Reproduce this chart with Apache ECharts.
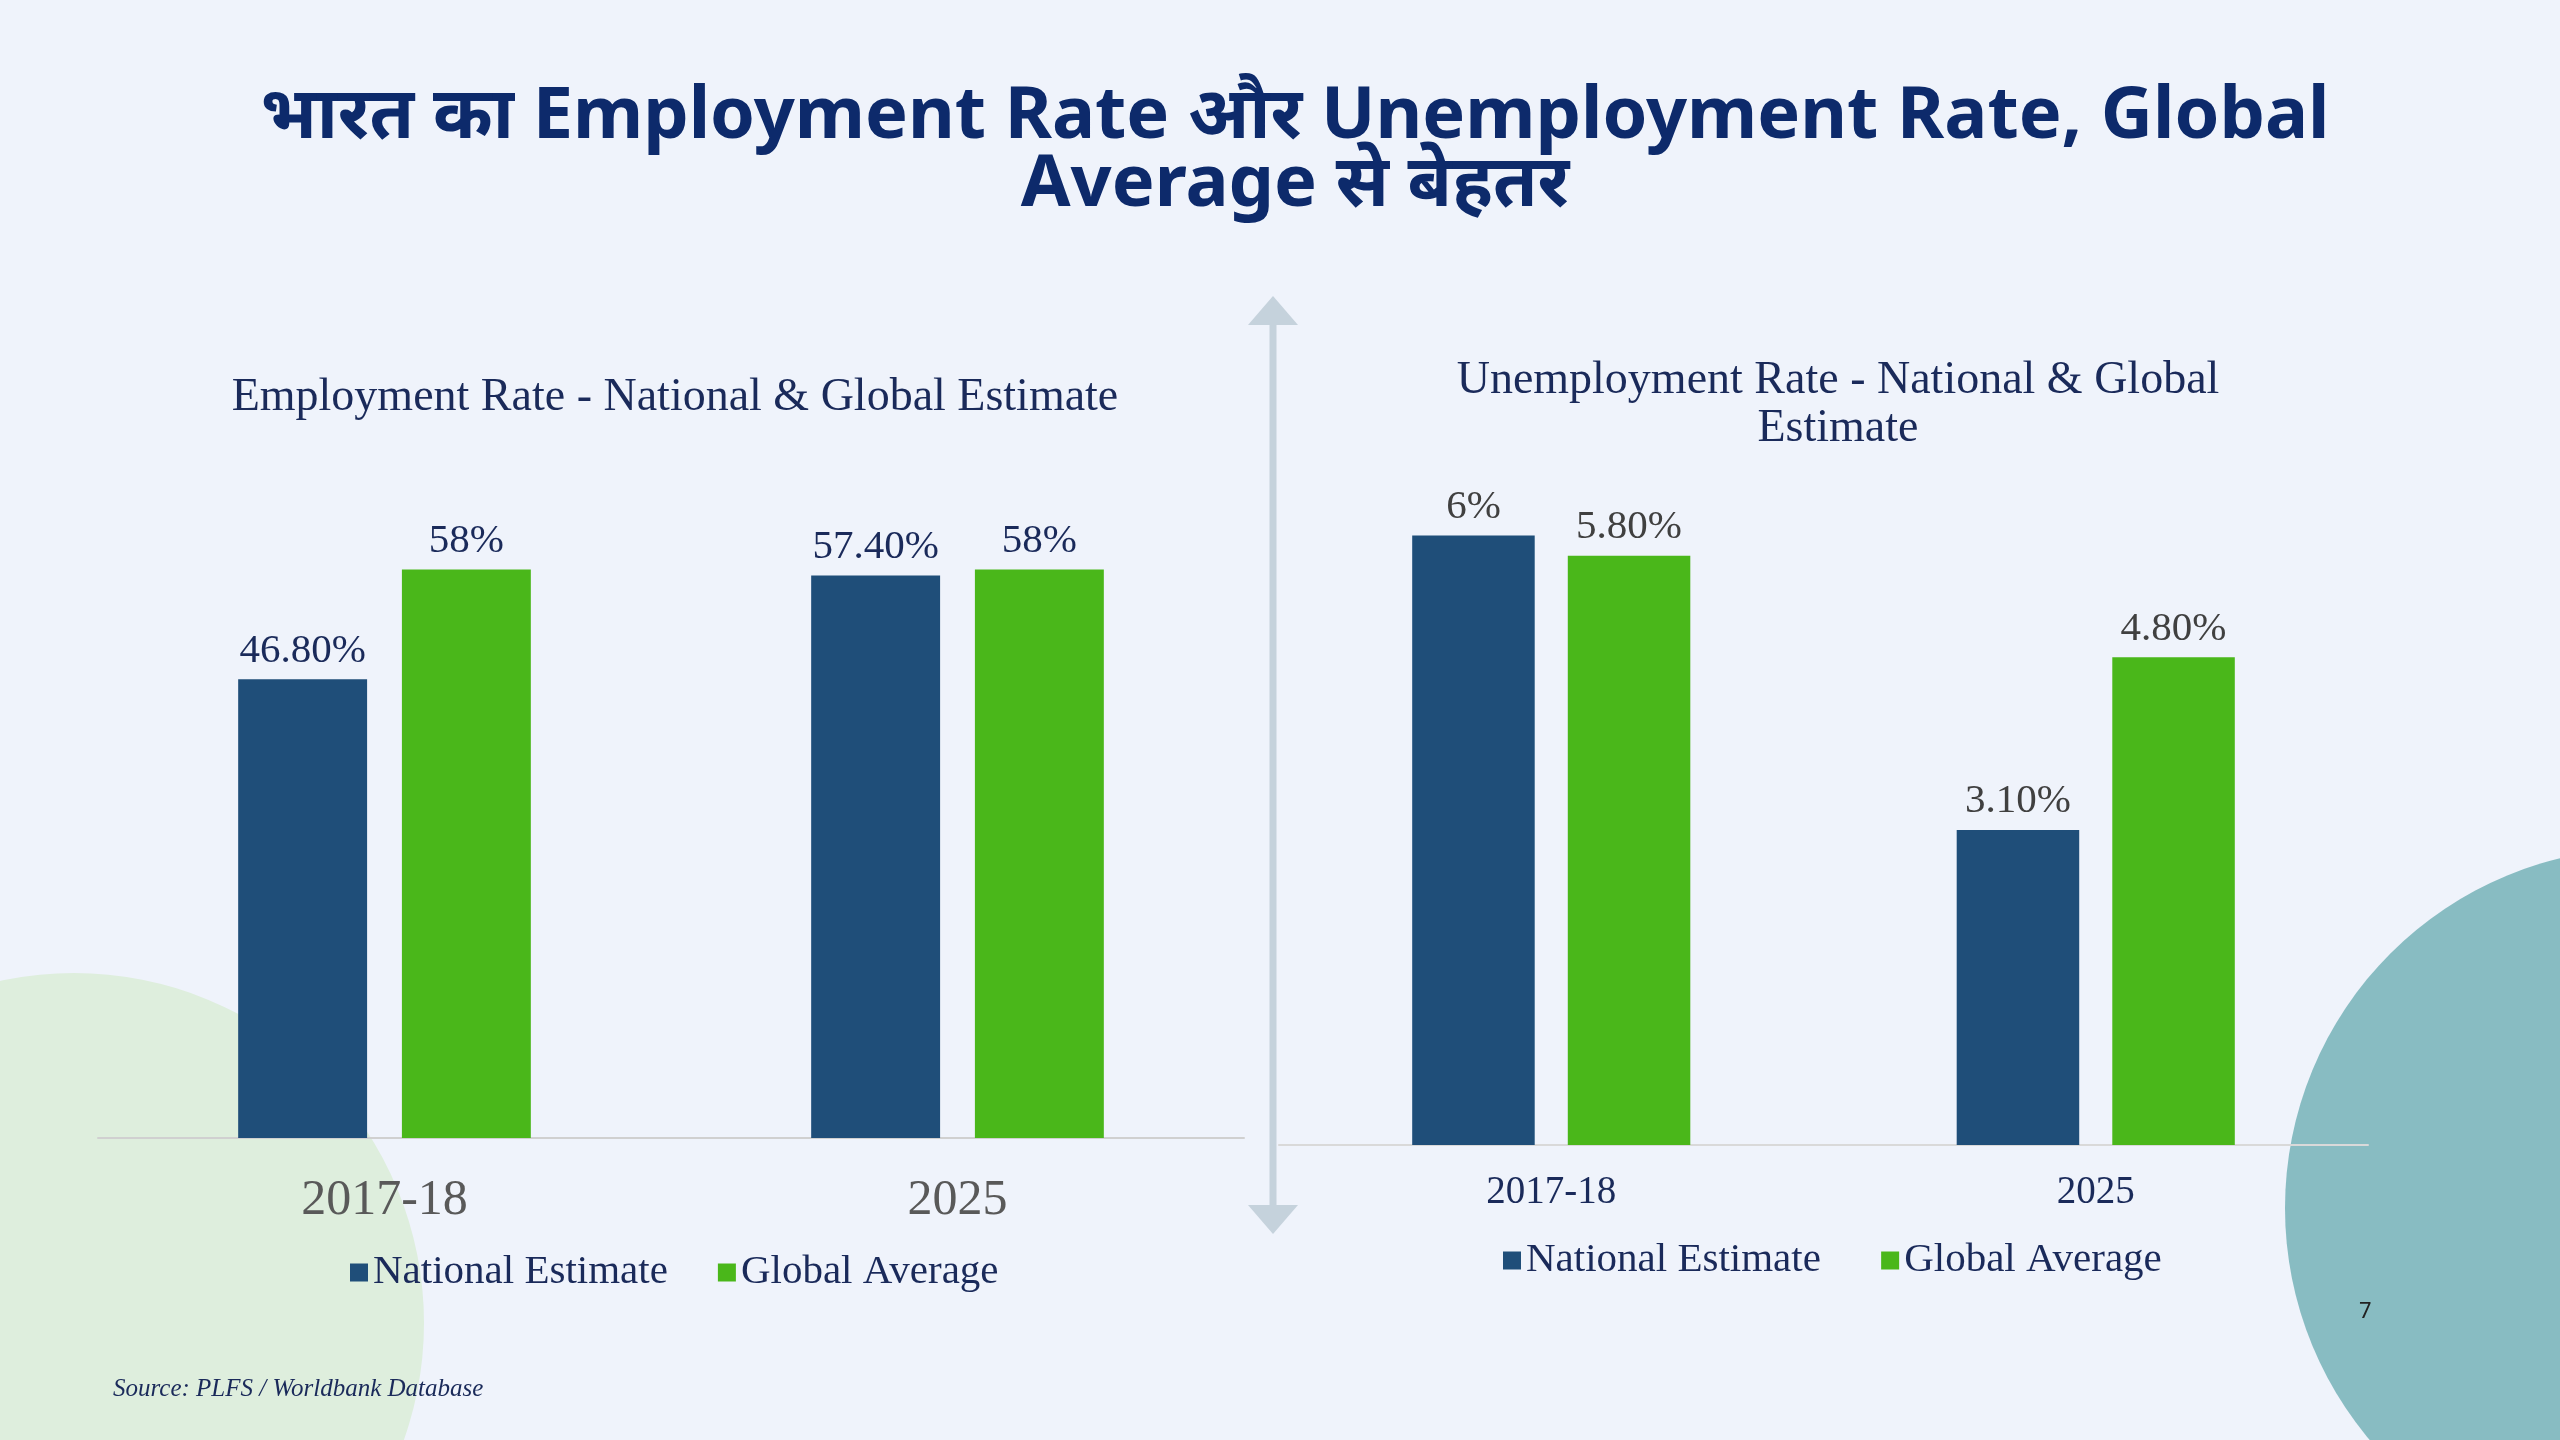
<!DOCTYPE html>
<html style="height: 100%">
<head>
<meta charset="utf-8">
<script src="https://cdn.jsdelivr.net/npm/echarts@6/dist/echarts.min.js"></script>
</head>
<body style="height: 100%; margin: 0; background: #eff3fb">
<div id="main" style="width: 2560px; height: 1440px"></div>
<script type="text/javascript">
    var years = ['2017-18', '2025'];
    var empNational = [46.8, 57.4];
    var empGlobal = [58, 58];
    var empLabels = [['46.80%', '57.40%'], ['58%', '58%']];
    var unempNational = [6, 3.1];
    var unempGlobal = [5.8, 4.8];
    var unempLabels = [['6%', '3.10%'], ['5.80%', '4.80%']];

    var serif = '"Liberation Serif", "DejaVu Serif", serif';
    var navy = '#1f4e79';
    var green = '#4ab71a';

    function bars(name, values, labels, idx, color, labelColor) {
        return {
            name: name, type: 'bar', xAxisIndex: idx, yAxisIndex: idx,
            barWidth: '22.5%', barGap: '27%',
            itemStyle: {color: color},
            label: {
                show: true, position: 'top', distance: 8,
                fontFamily: serif, fontSize: 41, color: labelColor,
                formatter: function (p) { return labels[p.dataIndex]; }
            },
            data: values
        };
    }

    var chart = echarts.init(document.getElementById('main'));
    var option = {
        backgroundColor: '#eff3fb',
        title: [
            {text: 'भारत का Employment Rate और Unemployment Rate, Global\nAverage से बेहतर',
             left: 1290, top: 78, textAlign: 'center',
             textStyle: {fontFamily: '"Noto Sans", sans-serif', fontWeight: 'bold', fontSize: 72,
                         color: '#0d2a6b', lineHeight: 68}},
            {text: 'Employment Rate - National & Global Estimate', left: 670, top: 370, textAlign: 'center',
             textStyle: {fontFamily: serif, fontWeight: 'normal', fontSize: 46, color: '#1a2a5a'}},
            {text: 'Unemployment Rate - National & Global\nEstimate', left: 1833, top: 352, textAlign: 'center',
             textStyle: {fontFamily: serif, fontWeight: 'normal', fontSize: 46, color: '#1a2a5a', lineHeight: 48}},
            {text: 'Source: PLFS / Worldbank Database', left: 108, top: 1372,
             textStyle: {fontFamily: serif, fontStyle: 'italic', fontWeight: 'normal', fontSize: 25, color: '#1a2a5a'}},
            {text: '7', left: 2354, top: 1296,
             textStyle: {fontFamily: '"Noto Sans"', fontWeight: 'normal', fontSize: 22, color: '#222'}}
        ],
        graphic: [
            {type: 'circle', z: -10, shape: {cx: 74, cy: 1323, r: 350}, style: {fill: '#deeedd'}},
            {type: 'circle', z: -10, shape: {cx: 2645, cy: 1208, r: 360}, style: {fill: '#88bcc2'}},
            {type: 'line', shape: {x1: 1273, y1: 310, x2: 1273, y2: 1215}, style: {stroke: '#c5d2dc', lineWidth: 7}},
            {type: 'polygon', shape: {points: [[1248, 325], [1298, 325], [1273, 296]]}, style: {fill: '#c5d2dc'}},
            {type: 'polygon', shape: {points: [[1248, 1205], [1298, 1205], [1273, 1234]]}, style: {fill: '#c5d2dc'}}
        ],
        legend: [
            {data: ['National Estimate', 'Global Average'], left: 345, top: 1247, itemWidth: 18, itemHeight: 18,
             itemGap: 50, icon: 'rect', textStyle: {fontFamily: serif, fontSize: 41, color: '#1a2a5a'}},
            {data: ['National Estimate ', 'Global Average '], left: 1498, top: 1235, itemWidth: 18, itemHeight: 18,
             itemGap: 50, icon: 'rect', textStyle: {fontFamily: serif, fontSize: 41, color: '#1a2a5a'}}
        ],
        grid: [
            {left: 98, width: 1146, top: 158, height: 980},
            {left: 1279, width: 1089, top: 129, height: 1016}
        ],
        xAxis: [
            {type: 'category', gridIndex: 0, data: years,
             axisLine: {lineStyle: {color: '#d0d0d0', width: 2}}, axisTick: {show: false},
             axisLabel: {fontFamily: serif, fontSize: 50, color: '#595959', margin: 38}},
            {type: 'category', gridIndex: 1, data: years,
             axisLine: {lineStyle: {color: '#d9d9d9', width: 2}}, axisTick: {show: false},
             axisLabel: {fontFamily: serif, fontSize: 39, color: '#1a2a5a', margin: 28}}
        ],
        yAxis: [
            {type: 'value', gridIndex: 0, min: 0, max: 100, show: false},
            {type: 'value', gridIndex: 1, min: 0, max: 10, show: false}
        ],
        series: [
            bars('National Estimate', empNational, empLabels[0], 0, navy, '#1a2a5a'),
            bars('Global Average', empGlobal, empLabels[1], 0, green, '#1a2a5a'),
            bars('National Estimate ', unempNational, unempLabels[0], 1, navy, '#404040'),
            bars('Global Average ', unempGlobal, unempLabels[1], 1, green, '#404040')
        ]
    };
    chart.setOption(option);
</script>
</body>
</html>
